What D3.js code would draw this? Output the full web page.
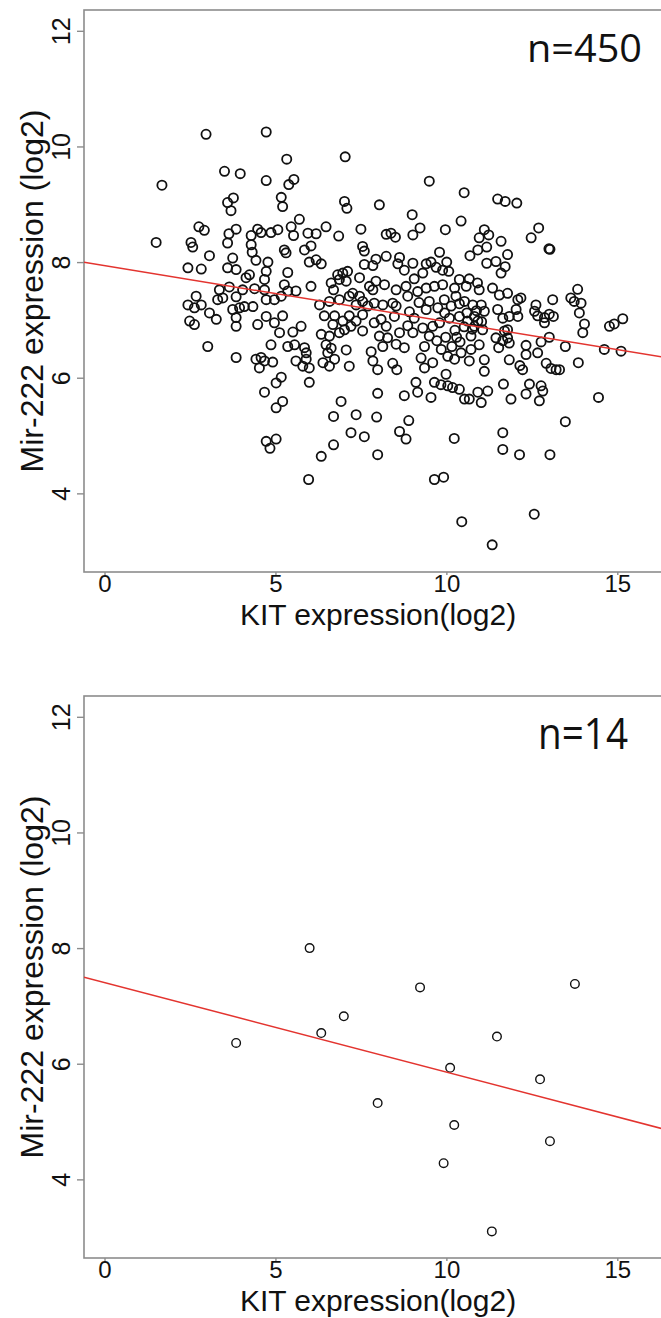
<!DOCTYPE html>
<html>
<head>
<meta charset="utf-8">
<script src="https://cdn.jsdelivr.net/npm/d3@7"></script>
<style>
  body { margin: 0; background: #fff; }
  text { font-family: "Liberation Sans", Arial, Helvetica, sans-serif; fill: #111; }
  .nlabel { font-family: "Open Sans", "Noto Sans", sans-serif; }
</style>
</head>
<body>
<svg id="chart"></svg>
<script>
const width = 661;
const height = 1318;

// top panel (n=450): [KIT, Mir-222]
const topPoints = [
    [2.97,10.21],[4.73,10.25],[5.33,9.78],[1.68,9.33],[3.51,9.57],[3.97,9.53],[4.73,9.41],[5.39,9.34],[5.54,9.43],[7.04,9.82],[9.50,9.40],
    [3.60,9.03],[3.77,9.11],[3.70,8.89],[5.17,9.12],[5.21,8.96],[7.02,9.05],[7.09,8.93],[8.04,8.99],
    [2.76,8.61],[2.92,8.55],[5.70,8.74],[3.85,8.57],[3.64,8.49],[4.29,8.46],[4.48,8.57],[4.58,8.51],[4.87,8.51],[5.07,8.56],[5.46,8.61],[5.53,8.46],[5.95,8.50],[6.19,8.49],[6.48,8.61],[6.85,8.45],[7.50,8.57],[8.24,8.48],
    [1.51,8.34],[2.53,8.34],[2.58,8.26],[3.60,8.33],[4.29,8.30],[4.32,8.17],[5.26,8.21],[5.31,8.16],[5.85,8.21],[6.04,8.28],[7.55,8.27],[7.60,8.19],
    [3.07,8.11],[3.75,8.07],[4.43,8.03],[4.78,8.00],[5.99,8.00],[6.19,8.04],[6.34,7.97],[7.60,7.96],[7.85,7.94],[7.94,8.05],[8.24,8.10],
    [2.44,7.90],[2.83,7.88],[3.60,7.90],[3.85,7.87],[4.24,7.78],[4.14,7.73],[4.73,7.84],[4.68,7.70],[5.36,7.82],[6.82,7.78],[6.97,7.81],[7.11,7.84],[6.87,7.70],[7.07,7.67],[7.46,7.73],[7.94,7.67],[8.19,7.61],
    [3.36,7.52],[3.65,7.57],[4.04,7.52],[4.39,7.54],[4.68,7.52],[5.26,7.61],[5.36,7.50],[5.60,7.50],[6.04,7.58],[6.63,7.64],[6.70,7.52],[7.75,7.58],[7.85,7.52],
    [2.68,7.41],[2.44,7.26],[2.83,7.26],[3.46,7.38],[3.31,7.35],[3.85,7.40],[4.73,7.35],[4.97,7.35],[5.17,7.41],[6.29,7.26],[6.58,7.32],[6.87,7.35],[7.16,7.41],[7.26,7.46],[7.46,7.41],[7.55,7.32],[7.36,7.26],[7.70,7.24],[7.89,7.29],[8.14,7.26],
    [2.63,7.21],[3.07,7.12],[3.27,7.01],[2.49,6.98],[2.63,6.92],[3.75,7.18],[3.95,7.21],[4.09,7.23],[4.34,7.23],[3.85,7.04],[3.85,6.89],[4.48,6.92],[4.73,7.06],[4.97,6.95],[5.21,7.07],[5.75,6.89],[5.51,6.79],[6.43,7.07],[6.73,7.07],[6.68,6.92],[6.97,6.98],[7.16,7.07],[7.36,6.98],[7.21,6.89],[7.55,7.09],[7.89,6.95],[8.09,7.01],[8.24,6.89],
    [5.12,6.78],[6.34,6.75],[6.58,6.72],[6.87,6.78],[7.02,6.83],[7.55,6.81],[8.04,6.72],[8.28,6.69],
    [3.02,6.54],[4.87,6.57],[5.36,6.54],[5.56,6.57],[5.90,6.43],[5.85,6.52],[6.48,6.57],[6.63,6.51],[6.53,6.43],[7.07,6.48],[7.80,6.45],[8.14,6.54],
    [3.85,6.35],[4.43,6.32],[4.58,6.35],[4.68,6.29],[4.92,6.27],[4.53,6.17],[5.60,6.29],[5.90,6.32],[5.80,6.20],[5.99,6.17],[6.39,6.26],[6.73,6.32],[6.58,6.20],[7.16,6.20],[7.85,6.29],[7.99,6.14],
    [5.99,5.92],[5.17,6.01],[5.02,5.91],[4.68,5.75],[5.21,5.59],[5.02,5.48],[6.92,5.59],[7.99,5.73],[6.70,5.33],[7.36,5.36],[7.96,5.32],[7.21,5.05],[7.60,4.98],[4.73,4.90],[5.02,4.94],[4.84,4.78],[6.70,4.84],[6.34,4.64],
    [10.52,9.20],[11.50,9.09],[11.72,9.05],[12.06,9.02],[9.00,8.82],[10.43,8.71],[9.23,8.59],[9.02,8.47],[9.97,8.56],[8.51,8.43],[8.38,8.50],
    [11.11,8.56],[11.24,8.47],[10.96,8.42],[11.18,8.26],[10.92,8.21],[10.69,8.11],[11.60,8.36],[11.79,8.13],[11.45,8.01],[11.72,7.92],[11.60,7.81],[11.18,7.98],[12.48,8.42],[12.70,8.59],[13.00,8.23],[13.03,8.22],
    [9.80,8.17],[8.63,8.08],[9.02,7.98],[8.77,7.86],[8.58,7.97],[9.41,7.97],[9.55,8.00],[9.70,7.91],[9.89,7.86],[10.01,8.00],[10.07,7.84],[9.31,7.81],[9.06,7.71],[8.82,7.58],[8.87,7.41],[8.53,7.52],[9.41,7.55],[9.65,7.58],[9.16,7.49],[9.89,7.61],[10.38,7.70],[10.67,7.71],[10.91,7.64],[10.58,7.58],[10.24,7.55],[10.96,7.52],[11.35,7.55],[11.55,7.43],[11.79,7.46],[12.09,7.35],[12.18,7.38],[12.62,7.26],[13.11,7.35],
    [13.64,7.38],[13.84,7.53],[13.74,7.32],[13.94,7.29],[13.89,7.12],[14.04,6.93],[13.99,6.78],[14.77,6.89],[14.91,6.93],[15.16,7.02],[14.62,6.49],[15.11,6.46],[13.48,6.54],[13.86,6.26],[14.45,5.66],[13.48,5.24],
    [8.43,7.29],[8.53,7.24],[8.48,7.06],[8.92,7.14],[9.06,7.03],[9.50,7.32],[9.94,7.35],[10.28,7.41],[10.53,7.32],[10.14,7.24],[9.75,7.21],[9.41,7.18],[10.77,7.26],[11.02,7.26],[11.11,7.15],[10.82,7.06],[10.62,6.98],[10.38,7.06],[10.09,7.03],[9.80,6.95],[9.60,6.89],[9.31,6.86],[8.87,6.90],[9.02,6.78],[8.77,6.52],[8.53,6.58],[9.50,6.72],[9.36,6.54],[9.85,6.49],[10.16,6.54],[10.40,6.62],[10.72,6.72],[10.82,6.89],[10.92,6.98],[11.06,6.83],[10.72,6.49],[10.96,6.57],[11.11,6.31],[10.67,6.29],[10.43,6.43],[10.24,6.32],[10.04,6.37],[9.60,6.26],[9.36,6.17],[9.26,6.34],[9.11,5.92],[9.16,5.75],[9.65,5.92],[9.84,5.88],[10.04,5.86],[10.18,5.83],[9.99,6.06],[10.38,5.80],[10.53,5.63],[10.67,5.63],[10.92,5.75],[11.02,5.57],[11.21,5.77],[11.11,6.11],
    [11.45,6.69],[11.53,6.52],[11.65,6.64],[11.79,6.69],[11.84,6.60],[11.70,6.81],[11.50,7.18],[11.65,7.03],[11.84,7.06],[12.09,7.06],[12.04,7.18],[11.79,6.83],[12.33,6.56],[12.33,6.40],[12.67,6.43],[12.77,6.62],[13.01,6.70],[12.58,7.15],[12.67,7.07],[12.87,7.04],[13.01,7.10],[13.13,7.06],[12.87,6.95],[12.23,6.14],[12.15,6.21],[12.92,6.25],[13.06,6.16],[13.21,6.14],[13.31,6.14],[11.84,6.31],[11.67,5.89],[11.89,5.63],[12.33,5.72],[12.43,5.89],[12.77,5.86],[12.82,5.77],[12.72,5.60],[8.77,5.69],[9.55,5.66],[8.90,5.26],[8.63,5.07],[8.82,4.94],[10.23,4.95],[11.65,5.05],[11.65,4.76],[12.14,4.67],[13.03,4.67],[8.43,6.25],[8.55,6.14],[8.63,6.78],
    [10.38,7.28],[10.60,7.12],[10.88,7.16],[11.03,6.97],[10.76,6.84],[10.52,6.88],[10.25,6.82],[9.98,6.70],[9.72,6.64],[10.30,6.70],[9.20,7.30],[9.95,7.12],
    [7.99,4.67],[9.65,4.24],[9.92,4.28],[10.45,3.51],[11.34,3.11],[12.57,3.64],[5.97,4.24]
];

// bottom panel (n=14)
const kitBottom = [6.00, 9.23, 13.76, 3.85, 6.34, 7.00, 11.48, 10.11, 12.74, 7.99, 10.23, 13.03, 9.92, 11.33];
const mirBottom = [8.00, 7.32, 7.38, 6.36, 6.53, 6.82, 6.47, 5.93, 5.73, 5.32, 4.94, 4.66, 4.28, 3.10];

// fitted lines: [intercept, slope]
const fitTop = [7.94, -0.097];
const fitBottom = [7.405, -0.155];

const xTicks = [0, 5, 10, 15];
const yTicks = [4, 6, 8, 10, 12];
const xDomain = [-0.6, 16.6];
const yDomain = [2.64, 12.36];
const xTitle = 'KIT expression(log2)';
const yTitle = 'Mir-222 expression (log2)';

const svg = d3.select('#chart')
    .attr('width', width)
    .attr('height', height);

svg.append('rect').attr('width', width).attr('height', height).attr('fill', '#fff');

const left = 84, right = 672, plotH = 562;
const x = d3.scaleLinear().domain(xDomain).range([left, right]);

const drawPanel = (top, data, fit, label, opts) => {
    const y = d3.scaleLinear().domain(yDomain).range([top + plotH, top]);
    const g = svg.append('g');
    const clipId = 'clip' + top;

    g.append('clipPath').attr('id', clipId)
        .append('rect')
        .attr('x', left).attr('y', top)
        .attr('width', right - left).attr('height', plotH);

    // y axis, labels turned like R does it
    const yAxis = g.append('g')
        .attr('transform', `translate(${left},0)`)
        .call(d3.axisLeft(y).tickValues(yTicks).tickSize(7).tickFormat(d3.format('d')));
    yAxis.select('.domain').remove();
    yAxis.selectAll('line').attr('stroke', '#8c8c8c').attr('stroke-width', 1.4);
    yAxis.selectAll('text')
        .attr('x', null).attr('dy', null)
        .attr('text-anchor', 'middle')
        .attr('transform', 'translate(-14,0) rotate(-90)')
        .style('font-size', '25px')
        .style('fill', '#111');

    const xAxis = g.append('g')
        .attr('transform', `translate(0,${top + plotH})`)
        .call(d3.axisBottom(x).tickValues(xTicks).tickSize(3).tickFormat(d3.format('d')));
    xAxis.select('.domain').remove();
    xAxis.selectAll('line').attr('stroke', '#8c8c8c').attr('stroke-width', 1.4);
    xAxis.selectAll('text')
        .attr('y', 20).attr('dy', null)
        .style('font-size', '24px')
        .style('fill', '#111');

    g.append('rect')
        .attr('x', left).attr('y', top)
        .attr('width', right - left).attr('height', plotH)
        .attr('fill', 'none')
        .attr('stroke', '#8c8c8c')
        .attr('stroke-width', 1.6);

    g.append('g')
        .selectAll('circle')
        .data(data)
        .enter().append('circle')
        .attr('cx', d => x(d[0]))
        .attr('cy', d => y(d[1]))
        .attr('r', opts.r)
        .attr('fill', 'none')
        .attr('stroke', '#111')
        .attr('stroke-width', opts.sw);

    const line = d3.line().x(d => x(d)).y(d => y(fit[0] + fit[1] * d));
    g.append('path')
        .datum(xDomain)
        .attr('clip-path', `url(#${clipId})`)
        .attr('d', line)
        .attr('fill', 'none')
        .attr('stroke', '#e3342f')
        .attr('stroke-width', 1.5);

    g.append('text')
        .attr('class', 'nlabel')
        .attr('x', opts.nx).attr('y', top + opts.ny)
        .attr('textLength', opts.nw)
        .attr('lengthAdjust', 'spacingAndGlyphs')
        .style('font-size', opts.nsize + 'px')
        .text(label);

    g.append('text')
        .attr('x', 378).attr('y', top + plotH + 53)
        .attr('text-anchor', 'middle')
        .style('font-size', '30px')
        .text(xTitle);

    g.append('text')
        .attr('transform', `translate(43,${top + plotH / 2}) rotate(-90)`)
        .attr('text-anchor', 'middle')
        .style('font-size', '32px')
        .text(yTitle);
};

drawPanel(10, topPoints, fitTop, 'n=450', { r: 4.6, sw: 1.8, nx: 527, ny: 52, nw: 115, nsize: 38 });
drawPanel(696, kitBottom.map((k, i) => [k, mirBottom[i]]), fitBottom, 'n=14',
    { r: 4.3, sw: 1.4, nx: 538, ny: 53, nw: 90, nsize: 43 });
</script>
</body>
</html>
